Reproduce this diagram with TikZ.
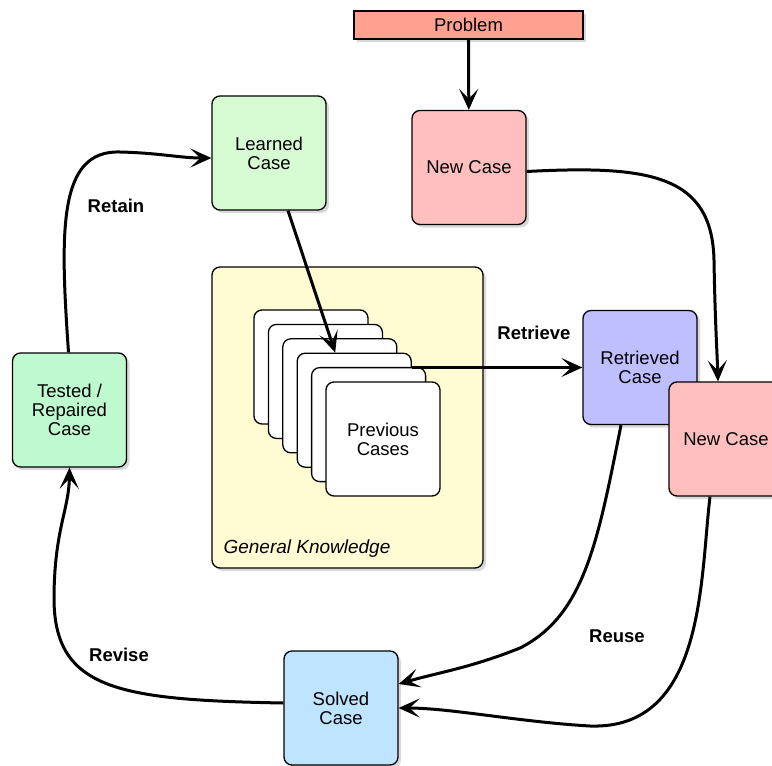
\documentclass[tikz,border=0pt]{standalone}
\usepackage{fontspec}
\setmainfont{Liberation Sans}
\usetikzlibrary{arrows.meta,shadows}
\definecolor{problemred}{HTML}{FFA091}
\definecolor{casered}{HTML}{FFBFBF}
\definecolor{learngreen}{HTML}{D6FAD2}
\definecolor{testgreen}{HTML}{BFF9D0}
\definecolor{retblue}{HTML}{BFBFFF}
\definecolor{solvblue}{HTML}{BFE4FF}
\definecolor{gkyellow}{HTML}{FFFBD2}

\begin{document}
\begin{tikzpicture}[x=1pt, y=-1pt,
	every node/.style={font=\fontsize{18.5}{19}\selectfont},
	>={Stealth[length=21pt, width=19pt, inset=10pt]},
	box/.style={draw, line width=1.3pt, rounded corners=8pt, minimum width=114pt, minimum height=114pt, align=center, inner sep=0pt},
	shade/.style={drop shadow={shadow xshift=3pt, shadow yshift=-3pt, opacity=0.3}},
	flow/.style={->, line width=3pt},
	phase/.style={font=\fontsize{18.5}{19}\selectfont\bfseries}]
	\useasboundingbox (0,0) rectangle (772,766);
	\clip (0,0) rectangle (772,766);
	% knowledge base with the case library
	\node[box, shade, fill=gkyellow, minimum width=271pt, minimum height=301pt] (gk) at (347.5,417.5) {};
	\node[anchor=base west, font=\fontsize{19}{19}\selectfont\itshape] (gklabel) at (220,553) {General Knowledge};
	\foreach \i in {1,...,5}
		\node[box, fill=white] (c\i) at ({311+14.4*(\i-1)},{367+14.4*(\i-1)}) {};
	\node[box, fill=white] (c6) at (383,439) {Previous\\Cases};
	% cases
	\node[box, shade, fill=problemred, rounded corners=0pt, minimum width=229pt, minimum height=28pt] (prob) at (468.5,25) {Problem};
	\node[box, shade, fill=casered] (new) at (469,167.5) {New Case};
	\node[box, shade, fill=learngreen] (lrn) at (269,153) {Learned\\Case};
	\node[box, shade, fill=testgreen] (tst) at (69.5,410) {Tested /\\Repaired\\Case};
	\node[box, shade, fill=retblue] (ret) at (640,367.5) {Retrieved\\Case};
	\node[box, shade, fill=casered] (new2) at (726,439) {New Case};
	\node[box, shade, fill=solvblue] (sol) at (341,708) {Solved\\Case};
	% phase labels
	\node[phase] (retain) at (116,206) {Retain};
	\node[phase] (retrieve) at (534,333) {Retrieve};
	\node[phase] (reuse) at (617,636) {Reuse};
	\node[phase] (revise) at (119,655) {Revise};
	% cycle
	\draw[flow] (prob) -- (new);
	\draw[flow] ([yshift=-4pt]new.east) .. controls (650,165) and (712,175) .. (714,260) .. controls (715,320) and (717,350) .. ([xshift=-8pt]new2.north);
	\draw[flow] ([xshift=19pt]lrn.south) -- ([xshift=-19pt]c4.north);
	\draw[flow] (c4.east |- ret.west) -- (ret.west);
	\draw[flow] ([xshift=-19pt]ret.south) .. controls (598,540) and (585,615) .. (520,648) .. controls (470,668) and (440,672) .. ([yshift=24pt]sol.east);
	\draw[flow] ([xshift=-16pt]new2.south) .. controls (700,580) and (705,730) .. (590,726) .. controls (520,722) and (450,708) .. (sol.east);
	\draw[flow] ([yshift=5pt]sol.west) .. controls (120,700) and (55,690) .. (54,600) .. controls (54,530) and (69,510) .. (tst.south);
	\draw[flow] ([xshift=-1pt]tst.north) .. controls (60,230) and (58,150) .. (120,152) .. controls (160,153) and (180,158) .. ([yshift=-5pt]lrn.west);
\end{tikzpicture}
\end{document}
